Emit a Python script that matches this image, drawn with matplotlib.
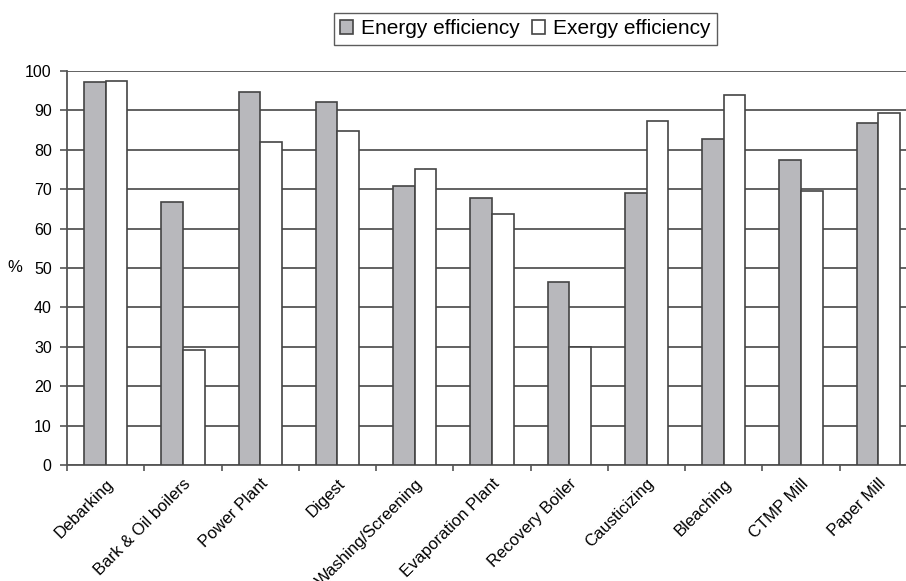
import numpy as np
import matplotlib.pyplot as plt
import matplotlib.transforms as mtransforms

plt.rcParams['font.family'] = ['Liberation Sans', 'DejaVu Sans']

categories = ['Debarking', 'Bark & Oil boilers', 'Power Plant', 'Digest',
              'Washing/Screening', 'Evaporation Plant', 'Recovery Boiler',
              'Causticizing', 'Bleaching', 'CTMP Mill', 'Paper Mill']
energy = [97.2, 66.8, 94.7, 92.1, 70.8, 67.8, 46.5, 69.1, 82.7, 77.4, 86.8]
exergy = [97.5, 29.3, 82.0, 84.8, 75.1, 63.8, 30.0, 87.4, 93.8, 69.5, 89.4]

fig = plt.figure(figsize=(9.06, 5.81), dpi=100)
# axes runs past the right edge of the picture, as in the original
ax = fig.add_axes([67/906, 116/581, 850/906, 394/581])

x = np.arange(len(categories))
w = 0.28
edge = '#444444'
ax.bar(x - w/2, energy, w, color='#b8b8bc', edgecolor=edge, linewidth=1.2,
       label='Energy efficiency', zorder=3)
ax.bar(x + w/2, exergy, w, color='white', edgecolor=edge, linewidth=1.2,
       label='Exergy efficiency', zorder=3)

ax.set_xlim(-0.5, len(categories) - 0.5)
ax.set_ylim(0, 100)
ax.set_yticks(range(0, 101, 10))
ax.yaxis.grid(True, color='#555555', linewidth=1.3, zorder=0)
ax.set_axisbelow(True)

for s in ['top', 'right']:
    ax.spines[s].set_visible(False)
for s in ['left', 'bottom']:
    ax.spines[s].set_color('#555555')
    ax.spines[s].set_linewidth(1.3)

ax.set_xticks(x)
ax.set_xticklabels(categories, rotation=45, ha='right', va='top',
                   rotation_mode='anchor', fontsize=12)
shift = mtransforms.ScaledTranslation(-5/100, 0, fig.dpi_scale_trans)
for lab in ax.get_xticklabels():
    lab.set_transform(lab.get_transform() + shift)
ax.tick_params(axis='x', length=0, pad=8)
ax.set_xticks(np.arange(len(categories) + 1) - 0.5, minor=True)
ax.tick_params(axis='x', which='minor', length=4, color='#555555', width=1.2)
ax.tick_params(axis='y', length=5, color='#555555', width=1.2, labelsize=11.5,
               pad=6)

fig.text(15/906, 1 - 268/581, '%', fontsize=12, ha='center', va='center')

fig.legend(loc='upper left', bbox_to_anchor=(334/906, 1 - 13/581), ncol=2,
           fontsize=15, frameon=True, fancybox=False, edgecolor='#333333',
           handlelength=0.6, handleheight=0.6, handletextpad=0.4,
           columnspacing=0.6, borderpad=0.3, borderaxespad=0)

fig.savefig('out.png', dpi=100)
